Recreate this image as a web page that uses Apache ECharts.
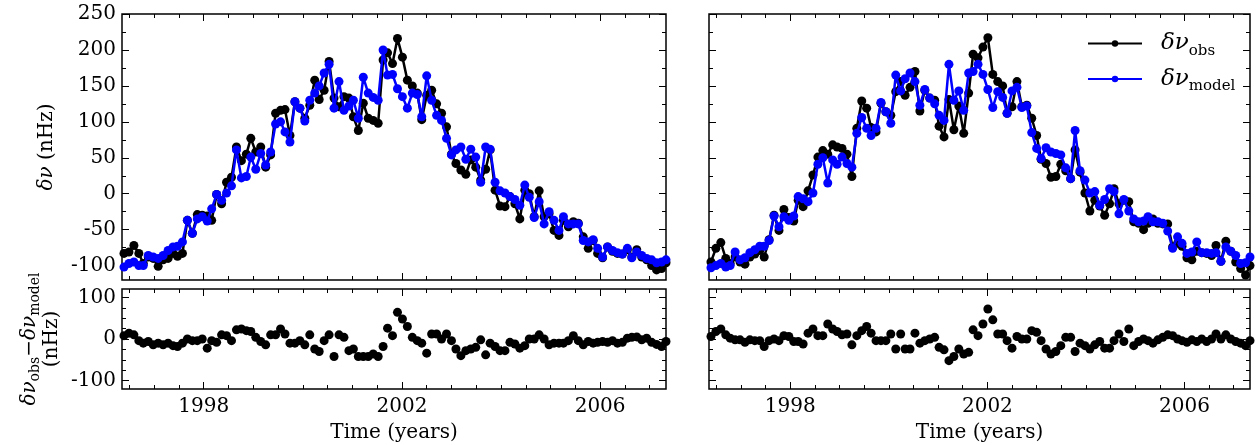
<!DOCTYPE html>
<html>
<head>
<meta charset="utf-8">
<script src="https://cdn.jsdelivr.net/npm/echarts@6/dist/echarts.min.js"></script>
<style>
html, body { margin: 0; padding: 0; background: #fff; }
#main { width: 1258px; height: 445px; }
</style>
</head>
<body>
<div id="main"></div>
<script>
// time of each point, years
var times = [1996.39, 1996.49, 1996.59, 1996.69, 1996.78, 1996.88, 1996.98, 1997.08, 1997.18, 1997.28,
  1997.38, 1997.47, 1997.57, 1997.67, 1997.77, 1997.87, 1997.97, 1998.07, 1998.16, 1998.26,
  1998.36, 1998.46, 1998.56, 1998.66, 1998.76, 1998.86, 1998.95, 1999.05, 1999.15, 1999.25,
  1999.35, 1999.45, 1999.55, 1999.64, 1999.74, 1999.84, 1999.94, 2000.04, 2000.14, 2000.24,
  2000.33, 2000.43, 2000.53, 2000.63, 2000.73, 2000.83, 2000.93, 2001.02, 2001.12, 2001.22,
  2001.32, 2001.42, 2001.52, 2001.62, 2001.71, 2001.81, 2001.91, 2002.01, 2002.11, 2002.21,
  2002.31, 2002.40, 2002.50, 2002.60, 2002.70, 2002.80, 2002.90, 2003.00, 2003.09, 2003.19,
  2003.29, 2003.39, 2003.49, 2003.59, 2003.69, 2003.78, 2003.88, 2003.98, 2004.08, 2004.18,
  2004.28, 2004.38, 2004.48, 2004.57, 2004.67, 2004.77, 2004.87, 2004.97, 2005.07, 2005.17,
  2005.26, 2005.36, 2005.46, 2005.56, 2005.66, 2005.76, 2005.86, 2005.95, 2006.05, 2006.15,
  2006.25, 2006.35, 2006.45, 2006.55, 2006.64, 2006.74, 2006.84, 2006.94, 2007.04, 2007.14,
  2007.24, 2007.33];

// left panel
var obsLeft = [-83, -81, -72, -83, -97, -88, -90, -101, -92, -90,
  -83, -87, -83, -37, -55, -29, -30, -31, -37, -1,
  -14, 16, 23, 65, 46, 55, 77, 58, 65, 37,
  54, 112, 116, 117, 81, 128, 119, 105, 123, 158,
  131, 144, 184, 133, 121, 135, 133, 107, 88, 126,
  105, 102, 98, 186, 196, 181, 216, 190, 158, 150,
  140, 103, 137, 144, 125, 112, 93, 55, 42, 33,
  27, 47, 37, 19, 34, 61, 5, -17, -18, -4,
  -14, -35, 5, 0, -32, 4, -32, -28, -51, -58,
  -37, -46, -39, -41, -60, -76, -65, -83, -89, -74,
  -80, -83, -84, -78, -88, -78, -88, -92, -100, -106,
  -104, -96];
var modelLeft = [-102, -97, -95, -100, -100, -86, -88, -90, -86, -79,
  -74, -73, -67, -37, -55, -35, -32, -38, -21, -1,
  -9, 1, 11, 61, 22, 24, 51, 34, 56, 40,
  58, 97, 100, 86, 72, 128, 119, 101, 130, 140,
  150, 168, 180, 119, 156, 116, 122, 130, 105, 162,
  140, 134, 130, 200, 165, 166, 146, 135, 119, 140,
  138, 107, 164, 130, 109, 102, 77, 54, 61, 65,
  48, 62, 51, 16, 65, 62, 16, 4, 1, -4,
  -8, -16, 12, -5, -33, -11, -42, -25, -37, -51,
  -32, -42, -42, -42, -65, -67, -64, -76, -88, -74,
  -79, -82, -84, -76, -89, -81, -86, -90, -92, -96,
  -95, -92];
var residLeft = [8, 14, 10, -4, -10, -6, -14, -10, -14, -10,
  -16, -18, -10, 0, -4, -4, 0, -22, -4, -8,
  10, 8, -4, 22, 24, 20, 18, 4, -6, -14,
  10, 10, 24, 12, -10, -10, -4, -14, 10, -24,
  -30, -4, 10, -42, 10, 4, -28, -24, -42, -42,
  -42, -36, -42, -18, 26, 8, 64, 48, 30, 4,
  -4, -10, -34, 12, 12, 0, 12, -4, -24, -40,
  -28, -24, -20, -2, -38, -10, -18, -28, -28, -8,
  -12, -22, -16, 0, 0, 10, 0, -14, -10, -10,
  -10, -4, 8, -4, -14, -6, -10, -8, -6, -8,
  -4, -10, -8, 2, 4, 5, -2, 2, -8, -13,
  -18, -6];

// right panel
var obsRight = [-95, -76, -68, -90, -97, -88, -95, -98, -88, -84,
  -79, -88, -64, -30, -51, -22, -33, -38, -9, -18,
  4, 26, 51, 60, 55, 68, 65, 63, 55, 24,
  91, 129, 119, 92, 86, 126, 114, 109, 142, 156,
  137, 148, 170, 115, 144, 133, 130, 94, 79, 131,
  89, 122, 84, 140, 194, 189, 204, 217, 166, 156,
  150, 112, 121, 156, 121, 123, 105, 81, 48, 42,
  23, 24, 41, 32, 21, 61, 30, 1, -24, -9,
  -17, -30, -14, 7, -14, -9, -11, -39, -41, -50,
  -41, -35, -41, -42, -42, -74, -69, -73, -89, -92,
  -80, -82, -83, -86, -72, -94, -66, -80, -95, -104,
  -113, -100];
var modelRight = [-103, -100, -97, -102, -100, -81, -92, -89, -82, -78,
  -73, -73, -65, -31, -46, -32, -37, -31, -4, -7,
  -11, 1, 41, 50, 15, 47, 41, 51, 42, 37,
  84, 106, 91, 81, 91, 127, 114, 98, 165, 143,
  160, 168, 156, 123, 145, 133, 125, 109, 102, 180,
  130, 143, 116, 168, 170, 180, 166, 145, 120, 142,
  134, 112, 143, 148, 120, 122, 85, 63, 49, 64,
  58, 56, 54, 36, 21, 88, 32, 19, 1, 3,
  -16, -8, 7, 3, -28, -8, -24, -35, -39, -38,
  -32, -39, -39, -41, -52, -76, -60, -69, -83, -81,
  -67, -82, -82, -83, -82, -94, -74, -80, -86, -97,
  -96, -88];
var residRight = [6, 18, 24, 10, 2, -2, -2, -8, -2, -4,
  -4, -18, -4, 0, -4, 8, 6, -6, -6, -12,
  14, 24, 8, 8, 36, 24, 18, 10, 12, -14,
  8, 20, 30, 14, -4, -4, -4, 12, -24, 12,
  -24, -24, 14, -10, -4, 0, 4, -20, -26, -52,
  -42, -24, -36, -32, 22, 8, 36, 72, 46, 12,
  12, -4, -22, 6, 0, 0, 20, 16, -4, -24,
  -36, -30, -16, 4, 4, -30, -10, -16, -24, -14,
  -6, -22, -22, -4, 12, -6, 24, -16, -6, 0,
  -4, -10, -2, 4, 10, 8, 0, -4, -8, -2,
  -6, 0, -6, 0, 12, 0, 10, 0, -6, -10,
  -16, -4];

// ticks
var xMajor = [1998, 2002, 2006];
var xMinor = [1996.5, 1997, 1997.5, 1998, 1998.5, 1999, 1999.5, 2000, 2000.5, 2001, 2001.5,
  2002, 2002.5, 2003, 2003.5, 2004, 2004.5, 2005, 2005.5, 2006, 2006.5, 2007];
var yTopMajor = [-100, -50, 0, 50, 100, 150, 200, 250];
var yTopMinor = [-100, -75, -50, -25, 0, 25, 50, 75, 100, 125, 150, 175, 200, 225, 250];
var yBotMajor = [-100, 0, 100];
var yBotMinor = [-100, -75, -50, -25, 0, 25, 50, 75, 100];

var FONT = 'DejaVu Serif';
var BLUE = '#0000ff';

function pairs (xs, ys) {
  return xs.map(function (x, i) { return [x, ys[i]] })
}

var grids = [
  {left: 122, top: 14, width: 544, height: 266},
  {left: 122, top: 289, width: 544, height: 100},
  {left: 709, top: 14, width: 541, height: 266},
  {left: 709, top: 289, width: 541, height: 100}
]
grids.forEach(function (g) {
  g.show = true
  g.borderColor = '#000'
  g.borderWidth = 1.5
  g.backgroundColor = 'transparent'
})

var xAxes = []
var yAxes = []

function tickAxis (gi, pos, min, max, vals, len, labelVals, extra) {
  var ax = {
    type: 'value',
    gridIndex: gi,
    position: pos,
    min: min,
    max: max,
    axisLine: {show: false, onZero: false},
    splitLine: {show: false},
    axisTick: {show: true, inside: true, length: len, customValues: vals, lineStyle: {color: '#000', width: 1}},
    axisLabel: labelVals ? {
      show: true, customValues: labelVals, color: '#000', fontFamily: FONT, fontSize: 20,
      margin: (pos === 'left' ? 6 : 8),
      formatter: function (v) { return String(v) }
    } : {show: false}
  }
  if (extra) Object.assign(ax, extra)
  return ax
}

for (var g = 0; g < 4; g++) {
  var bottom = (g % 2 === 1)
  var leftSide = (g < 2)
  var xMin = 1996.35
  var xMax = 2007.33
  var xName = bottom ? {
    name: 'Time (years)', nameLocation: 'middle', nameGap: 34,
    nameTextStyle: {color: '#000', fontFamily: FONT, fontSize: 20}
  } : null
  xAxes.push(tickAxis(g, 'bottom', xMin, xMax, xMajor, 7, bottom ? xMajor : null, xName))
  xAxes.push(tickAxis(g, 'bottom', xMin, xMax, xMinor, 4, null))
  xAxes.push(tickAxis(g, 'top', xMin, xMax, xMajor, 7, null))
  xAxes.push(tickAxis(g, 'top', xMin, xMax, xMinor, 4, null))

  var yMin = -120
  var yMax = bottom ? 120 : 250
  var maj = bottom ? yBotMajor : yTopMajor
  var mnr = bottom ? yBotMinor : yTopMinor
  yAxes.push(tickAxis(g, 'left', yMin, yMax, maj, 7, leftSide ? maj : null))
  yAxes.push(tickAxis(g, 'left', yMin, yMax, mnr, 4, null))
  yAxes.push(tickAxis(g, 'right', yMin, yMax, maj, 7, null))
  yAxes.push(tickAxis(g, 'right', yMin, yMax, mnr, 4, null))
}

function lineSeries (name, gi, ys, color, z) {
  return {
    type: 'line',
    name: name,
    xAxisIndex: gi * 4,
    yAxisIndex: gi * 4,
    data: pairs(times, ys),
    symbol: 'circle',
    symbolSize: 9,
    showAllSymbol: true,
    lineStyle: {color: color, width: 2.5},
    itemStyle: {color: color},
    z: z,
    animation: false
  }
}

function residSeries (gi, ys) {
  return {
    type: 'scatter',
    xAxisIndex: gi * 4,
    yAxisIndex: gi * 4,
    data: pairs(times, ys),
    symbol: 'circle',
    symbolSize: 9,
    itemStyle: {color: '#000', opacity: 1},
    animation: false
  }
}

var sub = {
  i: {fontFamily: FONT, fontSize: 20, fontStyle: 'italic', fill: '#000', color: '#000', lineHeight: 24},
  s: {fontFamily: FONT, fontSize: 14, fill: '#000', color: '#000', lineHeight: 12, verticalAlign: 'bottom'},
  m: {fontFamily: FONT, fontSize: 20, fill: '#000', color: '#000', lineHeight: 24},
  n: {fontFamily: FONT, fontSize: 20, fill: '#000', color: '#000', lineHeight: 20}
}

var chart = echarts.init(document.getElementById('main'))
chart.setOption({
  backgroundColor: '#fff',
  animation: false,
  grid: grids,
  xAxis: xAxes,
  yAxis: yAxes,
  legend: {
    orient: 'vertical',
    left: 1087,
    top: 32,
    padding: 0,
    itemWidth: 54,
    itemHeight: 8,
    itemGap: 9,
    data: ['obs', 'model'],
    formatter: function (name) { return '{a|δν}{b|' + name + '}' },
    textStyle: {
      color: '#000',
      fontFamily: FONT,
      rich: {
        a: {fontFamily: FONT, fontSize: 23, fontStyle: 'italic', color: '#000', lineHeight: 30, padding: [0, 0, 0, 14]},
        b: {fontFamily: FONT, fontSize: 15, color: '#000', lineHeight: 12, verticalAlign: 'bottom'}
      }
    }
  },
  graphic: [
    {
      type: 'text', x: 47, y: 147, rotation: Math.PI / 2,
      style: {text: '{i|δν}{m| (nHz)}', rich: sub, align: 'center', verticalAlign: 'middle', fill: '#000'}
    },
    {
      type: 'text', x: 40, y: 339, rotation: Math.PI / 2,
      style: {text: '{i|δν}{s|obs}{m|−}{i|δν}{s|model}\n{n|(nHz)}', rich: sub, align: 'center', verticalAlign: 'middle', fill: '#000'}
    }
  ],
  series: [
    lineSeries('obs', 0, obsLeft, '#000', 2),
    lineSeries('model', 0, modelLeft, BLUE, 3),
    residSeries(1, residLeft),
    lineSeries('obs', 2, obsRight, '#000', 2),
    lineSeries('model', 2, modelRight, BLUE, 3),
    residSeries(3, residRight)
  ]
})
</script>
</body>
</html>
